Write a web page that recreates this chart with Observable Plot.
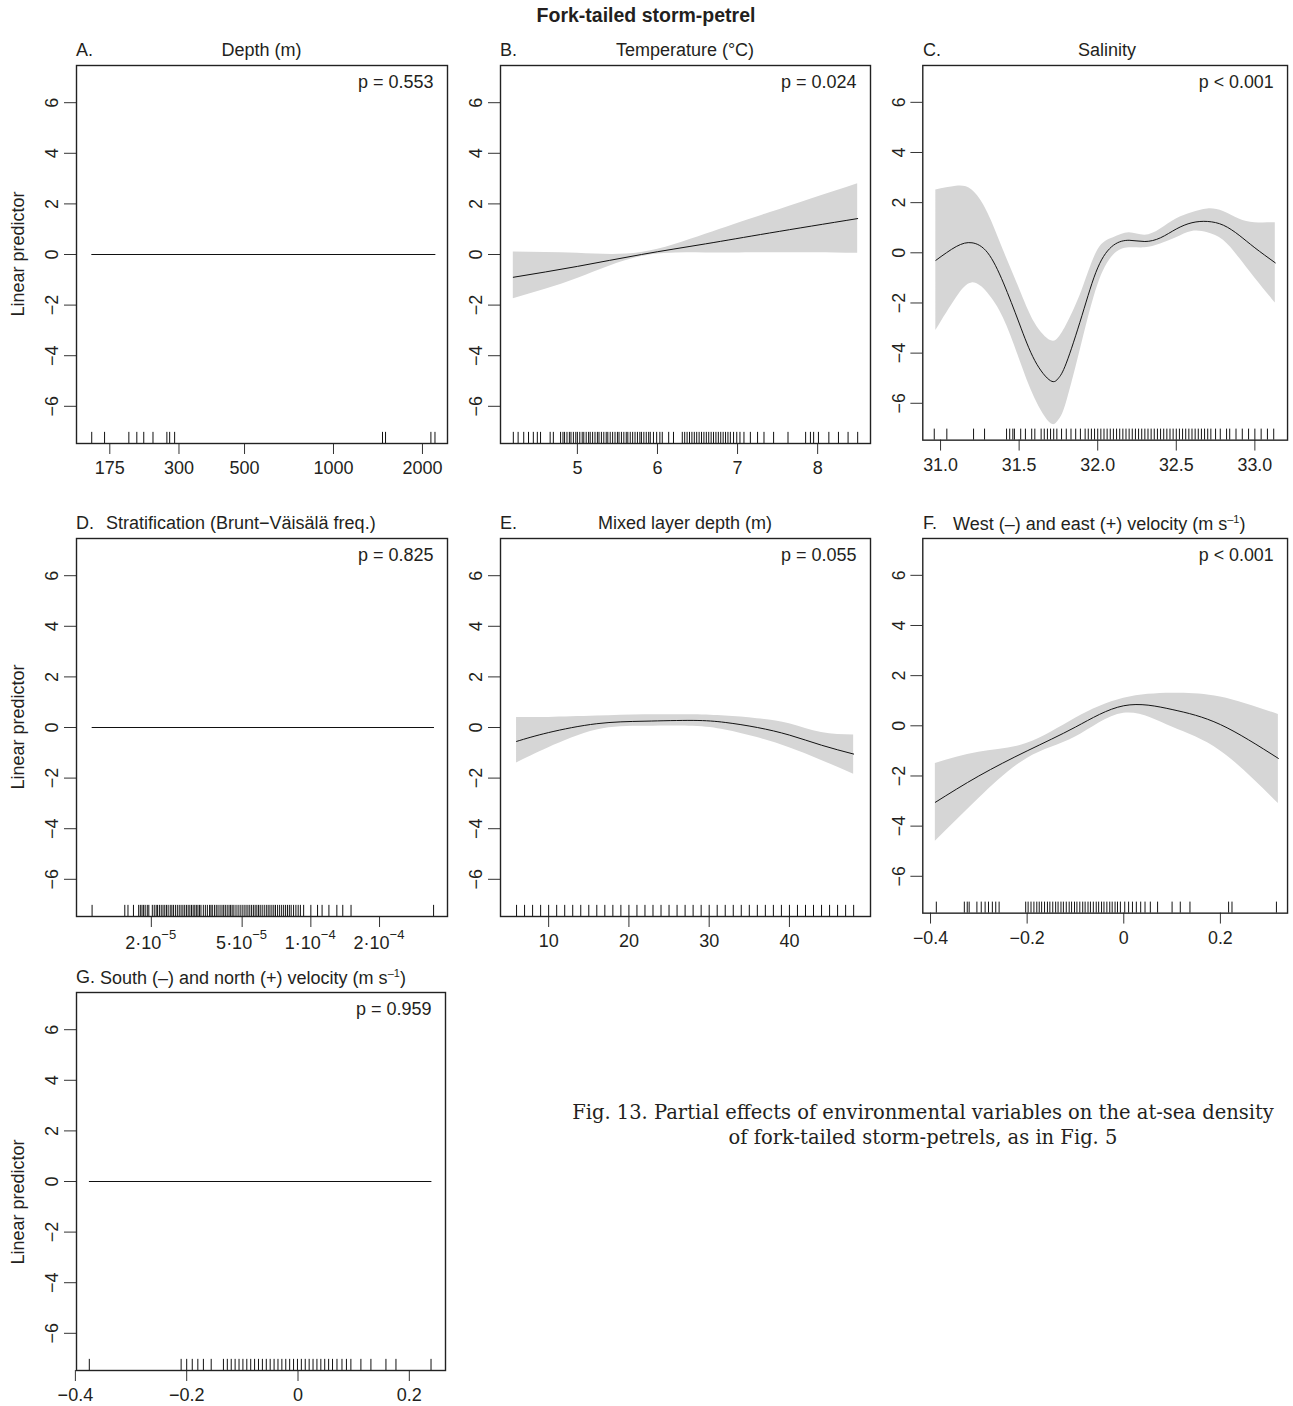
<!DOCTYPE html>
<html><head><meta charset="utf-8">
<script src="https://cdn.jsdelivr.net/npm/d3@7"></script>
<script src="https://cdn.jsdelivr.net/npm/@observablehq/plot@0.6"></script>
<style>
body{margin:0;background:#fff;font-family:"Liberation Sans",Arial,sans-serif;color:#231f20}
#root{position:relative;width:1293px;height:1406px}
.abs{position:absolute;white-space:nowrap}
.t{font-size:18px}
</style></head><body><div id="root"></div>
<script>
const yTicks=[-6,-4,-2,0,2,4,6];
// A depth
const depthRug=[152,168,203,216,228,245,273,279,290,1465,1500,2136,2205];
const depthTicks=[175,300,500,1000,2000];
// B temperature
const tempX=[4.2,5.0,5.8,6.6,7.4,8.5];
const tempFit=[-0.9,-0.47,0.0,0.42,0.85,1.42];
const tempLo=[-1.75,-0.95,-0.08,0.06,0.07,0.05];
const tempHi=[0.1,0.05,0.08,0.8,1.65,2.8];
const tempRug=[4.2,4.26,4.33,4.39,4.45,4.5,4.54,4.66,4.7,4.79,4.82,4.84,4.87,4.9,4.92,4.95,4.98,5.0,5.03,5.06,5.08,5.11,5.14,5.16,5.19,5.22,5.25,5.27,5.3,5.33,5.36,5.38,5.41,5.44,5.47,5.5,5.52,5.55,5.58,5.61,5.63,5.66,5.69,5.72,5.75,5.78,5.8,5.83,5.86,5.89,5.91,5.95,5.99,6.03,6.06,6.14,6.2,6.31,6.34,6.37,6.4,6.43,6.46,6.49,6.52,6.55,6.58,6.61,6.64,6.67,6.7,6.73,6.76,6.79,6.82,6.85,6.88,6.91,6.95,6.99,7.03,7.08,7.16,7.25,7.33,7.45,7.63,7.85,7.91,7.95,8.01,8.14,8.26,8.38,8.5];
const tempTicks=[5,6,7,8];
// C salinity
const salX=[30.97,31.1,31.2,31.3,31.4,31.5,31.6,31.7,31.75,31.8,31.9,32.0,32.1,32.2,32.3,32.4,32.5,32.6,32.7,32.8,32.9,33.0,33.13];
const salFit=[-0.3,0.25,0.4,0.0,-1.2,-2.8,-4.3,-5.1,-5.0,-4.4,-2.5,-0.6,0.3,0.5,0.45,0.6,0.95,1.2,1.25,1.1,0.7,0.2,-0.4];
const salLo=[-3.1,-1.8,-1.2,-1.6,-2.6,-4.2,-5.8,-6.8,-6.7,-6.0,-3.6,-1.3,-0.1,0.2,0.2,0.35,0.6,0.85,0.8,0.5,-0.2,-1.0,-2.0];
const salHi=[2.5,2.65,2.5,1.6,0.1,-1.4,-2.8,-3.5,-3.4,-2.9,-1.5,0.1,0.6,0.8,0.7,0.95,1.35,1.6,1.75,1.65,1.35,1.2,1.2];
const salRug=[30.96,31.04,31.21,31.28,31.42,31.44,31.46,31.47,31.51,31.54,31.58,31.6,31.64,31.66,31.68,31.7,31.72,31.74,31.77,31.8,31.83,31.86,31.89,31.92,31.94,31.96,31.98,32.0,32.02,32.04,32.06,32.08,32.1,32.12,32.14,32.16,32.18,32.2,32.22,32.24,32.26,32.28,32.3,32.32,32.34,32.36,32.38,32.4,32.42,32.44,32.46,32.48,32.5,32.52,32.54,32.56,32.58,32.6,32.62,32.64,32.66,32.68,32.7,32.72,32.75,32.78,32.82,32.84,32.88,32.92,32.96,33.0,33.04,33.08,33.12];
const salTicks=[31.0,31.5,32.0,32.5,33.0];
const salLabels=["31.0","31.5","32.0","32.5","33.0"];
// D stratification
const stratRug=[1.1e-5,1.53e-5,1.58e-5,1.67e-5,1.76e-5,1.79e-5,1.82e-5,1.85e-5,1.88e-5,1.92e-5,1.95e-5,2.02e-5,2.06e-5,2.1e-5,2.13e-5,2.17e-5,2.21e-5,2.25e-5,2.29e-5,2.33e-5,2.37e-5,2.42e-5,2.46e-5,2.5e-5,2.55e-5,2.6e-5,2.65e-5,2.7e-5,2.75e-5,2.8e-5,2.85e-5,2.9e-5,2.95e-5,3.0e-5,3.05e-5,3.1e-5,3.15e-5,3.2e-5,3.25e-5,3.3e-5,3.38e-5,3.45e-5,3.52e-5,3.6e-5,3.65e-5,3.7e-5,3.78e-5,3.85e-5,3.92e-5,4.0e-5,4.08e-5,4.15e-5,4.22e-5,4.3e-5,4.38e-5,4.45e-5,4.52e-5,4.6e-5,4.7e-5,4.8e-5,4.9e-5,5.0e-5,5.1e-5,5.2e-5,5.3e-5,5.4e-5,5.5e-5,5.6e-5,5.7e-5,5.8e-5,5.9e-5,6.0e-5,6.12e-5,6.25e-5,6.38e-5,6.5e-5,6.62e-5,6.75e-5,6.88e-5,7.0e-5,7.15e-5,7.3e-5,7.45e-5,7.6e-5,7.75e-5,7.9e-5,8.05e-5,8.2e-5,8.4e-5,8.6e-5,8.8e-5,9.0e-5,9.3e-5,1.0e-4,1.07e-4,1.12e-4,1.2e-4,1.3e-4,1.38e-4,1.5e-4,3.45e-4];
const stratTicks=[2e-5,5e-5,1e-4,2e-4];
const stratLabels=["2·10","5·10","1·10","2·10"];
const stratExps=["−5","−5","−4","−4"];
// E mixed layer depth
const mldX=[6,10,16,22,28,32,36,40,44,48];
const mldFit=[-0.55,-0.2,0.15,0.25,0.28,0.2,0.0,-0.3,-0.7,-1.05];
const mldLo=[-1.4,-0.8,-0.1,0.05,0.05,-0.1,-0.4,-0.8,-1.3,-1.85];
const mldHi=[0.4,0.4,0.45,0.5,0.5,0.45,0.35,0.15,-0.2,-0.3];
const mldRug=[6,7,8,9,10,11,12,13,14,15,16,17,18,19,20,21,22,23,24,25,26,27,28,29,30,31,32,33,34,35,36,37,38,39,40,41,42,43,44,45,46,47,48];
const mldTicks=[10,20,30,40];
// F east velocity
const uX=[-0.39,-0.3,-0.2,-0.1,0.0,0.1,0.2,0.32];
const uFit=[-3.05,-2.0,-1.0,-0.05,0.8,0.65,0.05,-1.3];
const uLo=[-4.6,-2.9,-1.3,-0.45,0.5,-0.05,-1.0,-3.1];
const uHi=[-1.5,-1.05,-0.7,0.3,1.1,1.3,1.15,0.45];
const uRug=[-0.388,-0.33,-0.324,-0.32,-0.304,-0.295,-0.287,-0.28,-0.272,-0.265,-0.258,-0.203,-0.198,-0.192,-0.186,-0.18,-0.175,-0.17,-0.164,-0.158,-0.153,-0.147,-0.141,-0.136,-0.13,-0.125,-0.119,-0.113,-0.108,-0.102,-0.097,-0.091,-0.085,-0.08,-0.074,-0.069,-0.063,-0.057,-0.052,-0.046,-0.041,-0.035,-0.029,-0.024,-0.018,-0.013,-0.007,0.002,0.01,0.018,0.026,0.035,0.044,0.055,0.07,0.1,0.117,0.137,0.217,0.224,0.316];
const uTicks=[-0.4,-0.2,0,0.2];
// G north velocity
const vRug=[-0.375,-0.21,-0.2,-0.19,-0.18,-0.17,-0.156,-0.134,-0.127,-0.12,-0.113,-0.106,-0.099,-0.092,-0.085,-0.078,-0.071,-0.064,-0.057,-0.05,-0.043,-0.036,-0.029,-0.022,-0.015,-0.008,-0.001,0.006,0.013,0.02,0.027,0.034,0.041,0.048,0.055,0.062,0.07,0.079,0.087,0.095,0.113,0.131,0.158,0.176,0.239];
const vTicks=[-0.4,-0.2,0,0.2];

const minus=s=>String(s).replace("-","−");
const root=document.getElementById("root");
function add(html,style,cls="abs"){const d=document.createElement("div");d.className=cls;d.innerHTML=html;Object.assign(d.style,style);root.appendChild(d);return d;}

function panel({left,top,w,xdom,xtype="linear",xticks,xlabels,xexps,rug,band,fit,zero,p,letter,title,titleLeft}){
  const Y0=-7.47,Y1=7.47,h=378;
  const lab=new Map(xticks.map((t,i)=>[t,xlabels?xlabels[i]:minus(t)]));
  const marks=[];
  if(band) marks.push(Plot.areaY(band.x.map((x,i)=>({x,lo:band.lo[i],hi:band.hi[i]})),{x:"x",y1:"lo",y2:"hi",fill:"#d6d6d6",curve:"natural"}));
  if(fit) marks.push(Plot.lineY(fit.x.map((x,i)=>({x,y:fit.y[i]})),{x:"x",y:"y",stroke:"#111",strokeWidth:1,curve:"natural"}));
  if(zero) marks.push(Plot.lineY(zero.map(x=>({x,y:0})),{x:"x",y:"y",stroke:"#111",strokeWidth:1}));
  marks.push(Plot.ruleX(rug,{x:d=>d,y1:Y0,y2:Y0+0.44,stroke:"#111",strokeWidth:1}));
  marks.push(Plot.axisY({ticks:yTicks,tickSize:12,label:null,tickFormat:()=>"",stroke:"#333"}));
  marks.push(Plot.text(yTicks,{x:xdom[0],y:d=>d,text:d=>minus(d),dx:-24,rotate:-90,fontSize:18,fill:"#231f20"}));
  marks.push(Plot.ruleX(xticks,{x:d=>d,y1:Y0,y2:Y0,stroke:"#333",insetBottom:-11,y:null}));
  if(xexps){
    const ex=new Map(xticks.map((t,i)=>[t,xexps[i]]));
    marks.push(Plot.text(xticks,{x:d=>d,y:Y0,text:d=>lab.get(d),dy:27,dx:10,textAnchor:"end",fontSize:18,fill:"#231f20"}));
    marks.push(Plot.text(xticks,{x:d=>d,y:Y0,text:d=>ex.get(d),dy:18,dx:10,textAnchor:"start",fontSize:13,fill:"#231f20"}));
  } else marks.push(Plot.text(xticks,{x:d=>d,y:Y0,text:d=>lab.get(d),dy:25,fontSize:18,fill:"#231f20"}));
  marks.push(Plot.frame({stroke:"#222",strokeWidth:1.4}));
  marks.push(Plot.text([p],{frameAnchor:"top-right",dx:-14,dy:10,text:d=>d,fontSize:18,fill:"#231f20"}));
  const svg=Plot.plot({width:w+86,height:h+44,marginLeft:80,marginRight:6,marginTop:2,marginBottom:42,
    style:{fontFamily:"Liberation Sans, Arial, sans-serif",fontSize:"18px",color:"#231f20",background:"transparent",overflow:"visible"},
    x:{type:xtype,domain:xdom,axis:null},y:{domain:[Y0,Y1]},marks});
  const wrap=document.createElement("div");wrap.className="abs";wrap.style.left=(left-80)+"px";wrap.style.top=(top-2)+"px";
  wrap.appendChild(svg);root.appendChild(wrap);
  add(letter,{left:left+"px",top:(top-25)+"px"},"abs t");
  if(titleLeft) add(title,{left:(left+titleLeft)+"px",top:(top-25)+"px"},"abs t");
  else add(title,{left:(left+w/2)+"px",top:(top-25)+"px",transform:"translateX(-50%)"},"abs t");
}

add("<b>Fork-tailed storm-petrel</b>",{left:"646px",top:"4px",transform:"translateX(-50%)",fontSize:"19.5px"});
[52,525,1000].forEach(t=>add("Linear predictor",{left:"18px",top:(t+202)+"px",transform:"translate(-50%,-50%) rotate(-90deg)",fontSize:"18px"}));

panel({left:76,top:65,w:371,xdom:[135,2431],xtype:"log",xticks:depthTicks,rug:depthRug,zero:[152,2205],p:"p = 0.553",letter:"A.",title:"Depth (m)"});
panel({left:500,top:65,w:370,xdom:[4.04,8.66],xticks:tempTicks,rug:tempRug,band:{x:tempX,lo:tempLo,hi:tempHi},fit:{x:tempX,y:tempFit},p:"p = 0.024",letter:"B.",title:"Temperature (°C)"});
panel({left:923,top:65,w:368,xdom:[30.887,33.208],xticks:salTicks,xlabels:salLabels,rug:salRug,band:{x:salX,lo:salLo,hi:salHi},fit:{x:salX,y:salFit},p:"p < 0.001",letter:"C.",title:"Salinity"});
panel({left:76,top:538,w:371,xdom:[9.4e-6,3.97e-4],xtype:"log",xticks:stratTicks,xlabels:stratLabels,xexps:stratExps,rug:stratRug,zero:[1.1e-5,3.45e-4],p:"p = 0.825",letter:"D.",title:"Stratification (Brunt−Väisälä freq.)",titleLeft:30});
panel({left:500,top:538,w:370,xdom:[4,50.1],xticks:mldTicks,rug:mldRug,band:{x:mldX,lo:mldLo,hi:mldHi},fit:{x:mldX,y:mldFit},p:"p = 0.055",letter:"E.",title:"Mixed layer depth (m)"});
panel({left:923,top:538,w:368,xdom:[-0.416,0.339],xticks:uTicks,rug:uRug,band:{x:uX,lo:uLo,hi:uHi},fit:{x:uX,y:uFit},p:"p < 0.001",letter:"F.",title:"West (–) and east (+) velocity (m s<sup style='font-size:11px'>–1</sup>)",titleLeft:30});
panel({left:76,top:992,w:369,xdom:[-0.398,0.265],xticks:vTicks,rug:vRug,zero:[-0.375,0.239],p:"p = 0.959",letter:"G.",title:"South (–) and north (+) velocity (m s<sup style='font-size:11px'>–1</sup>)",titleLeft:24});

add("Fig. 13. Partial effects of environmental variables on the at-sea density<br>of fork-tailed storm-petrels, as in Fig. 5",
 {left:"553px",top:"1100px",width:"740px",textAlign:"center",whiteSpace:"normal",fontFamily:"'DejaVu Serif',serif",fontSize:"19.5px",lineHeight:"25px"});
</script></body></html>
